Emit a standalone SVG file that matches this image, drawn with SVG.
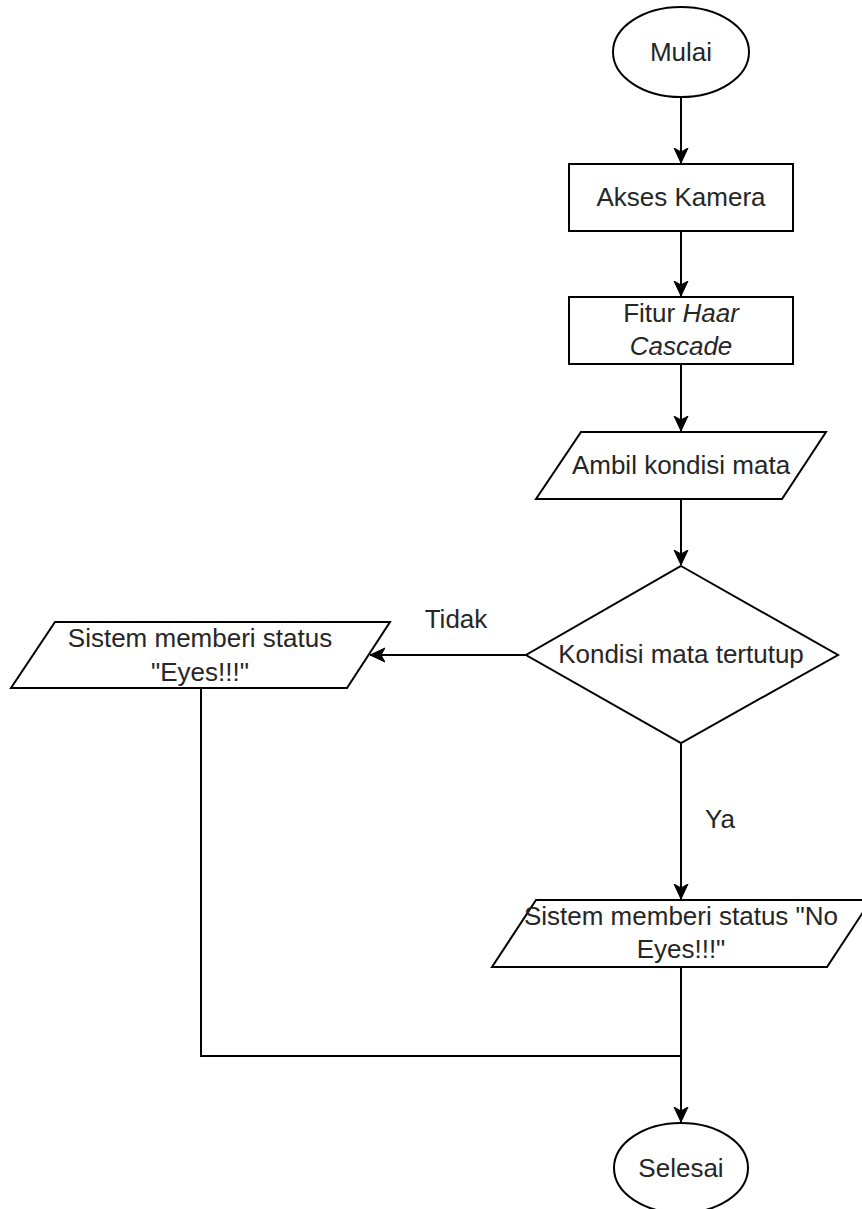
<svg xmlns="http://www.w3.org/2000/svg" width="862" height="1209" viewBox="0 0 862 1209">
<style>
.shape{fill:#fff;stroke:#000;stroke-width:2}
.edge{fill:none;stroke:#000;stroke-width:2}
text{font-family:"Liberation Sans",Arial,sans-serif;font-size:26px;fill:#262626;text-anchor:middle}
.it{font-style:italic}
</style>
<defs>
<marker id="arrow" markerUnits="userSpaceOnUse" markerWidth="16" markerHeight="16" viewBox="0 0 16 16" refX="15" refY="8" orient="auto">
<path d="M0,1 L15,8 L0,15 L4,8 Z" fill="#000" stroke="#000" stroke-width="1"/>
</marker>
</defs>
<rect width="862" height="1209" fill="#fff"/>
<g id="connectors">
<path class="edge" d="M681,97 V163" marker-end="url(#arrow)"/>
<path class="edge" d="M681,231 V296" marker-end="url(#arrow)"/>
<path class="edge" d="M681,364 V431" marker-end="url(#arrow)"/>
<path class="edge" d="M681,499 V565" marker-end="url(#arrow)"/>
<path class="edge" d="M526,655 H370" marker-end="url(#arrow)"/>
<path class="edge" d="M681,743 V899" marker-end="url(#arrow)"/>
<path class="edge" d="M681,967 V1122" marker-end="url(#arrow)"/>
<path class="edge" d="M201,688 V1056 H681"/>
<text x="456" y="628">Tidak</text>
<text x="720" y="828">Ya</text>
</g>
<g id="mulai">
<ellipse class="shape" cx="681" cy="52" rx="68" ry="45"/>
<text x="681" y="61">Mulai</text>
</g>
<g id="akses-kamera">
<rect class="shape" x="569" y="164" width="224" height="67"/>
<text x="681" y="206">Akses Kamera</text>
</g>
<g id="fitur-haar">
<rect class="shape" x="569" y="297" width="224" height="67"/>
<text x="681" y="322">Fitur <tspan class="it">Haar</tspan></text>
<text x="681" y="355" class="it">Cascade</text>
</g>
<g id="ambil-kondisi">
<polygon class="shape" points="581,432 826,432 782,499 536,499"/>
<text x="681" y="474">Ambil kondisi mata</text>
</g>
<g id="kondisi-tertutup">
<polygon class="shape" points="681,566 838,655 681,743 526,655"/>
<text x="681" y="663">Kondisi mata tertutup</text>
</g>
<g id="status-eyes">
<polygon class="shape" points="55,622 390,622 347,688 11,688"/>
<text x="200" y="647">Sistem memberi status</text>
<text x="200" y="681">"Eyes!!!"</text>
</g>
<g id="status-no-eyes">
<polygon class="shape" points="536,900 871,900 827,967 492,967"/>
<text x="681" y="925">Sistem memberi status "No</text>
<text x="681" y="958">Eyes!!!"</text>
</g>
<g id="selesai">
<ellipse class="shape" cx="681" cy="1168" rx="67" ry="45"/>
<text x="681" y="1177">Selesai</text>
</g>
</svg>
